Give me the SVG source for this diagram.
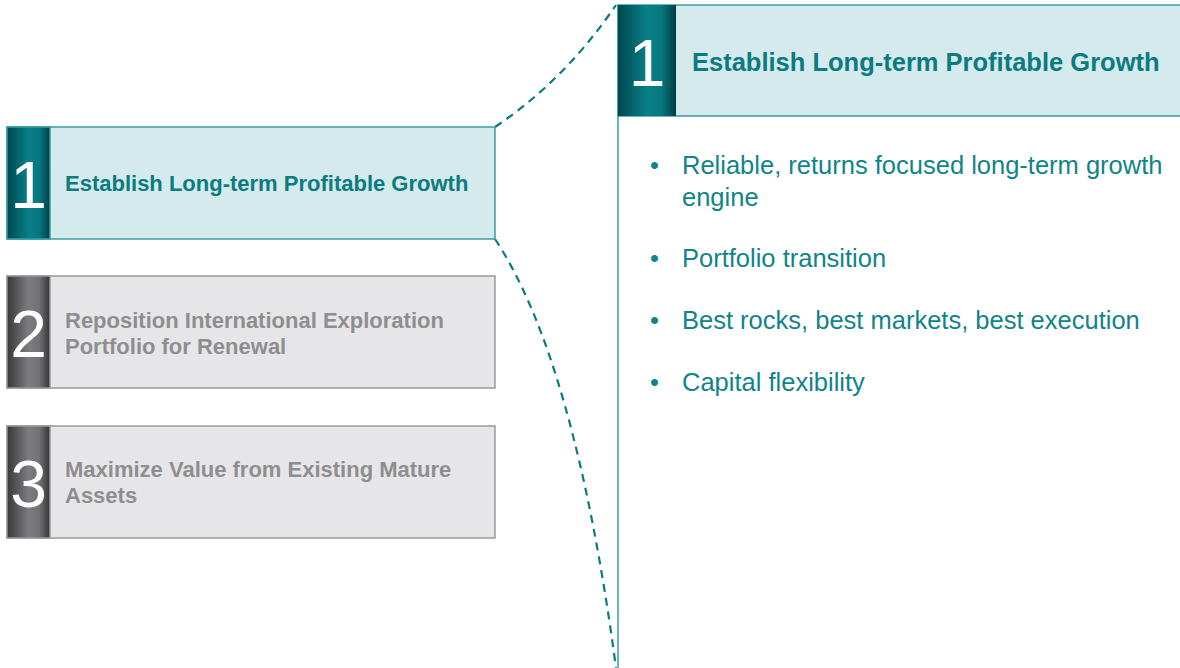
<svg xmlns="http://www.w3.org/2000/svg" width="1180" height="668" viewBox="0 0 1180 668">
<defs>
<linearGradient id="gTeal" x1="0" y1="0" x2="1" y2="0">
<stop offset="0" stop-color="#00474d"/>
<stop offset="0.5" stop-color="#07808a"/>
<stop offset="0.75" stop-color="#067780"/>
<stop offset="1" stop-color="#003e44"/>
</linearGradient>
<linearGradient id="gGray" x1="0" y1="0" x2="1" y2="0">
<stop offset="0" stop-color="#38383a"/>
<stop offset="0.5" stop-color="#7c7c80"/>
<stop offset="0.75" stop-color="#727276"/>
<stop offset="1" stop-color="#343436"/>
</linearGradient>
<style>
.tealbox{fill:#d4eaec;stroke:#3a9ea2;stroke-width:1.5}
.graybox{fill:#e6e6e8;stroke:#9a9a9c;stroke-width:1.5}
.num{font-family:"Liberation Sans",Arial,sans-serif;fill:#fff;font-size:66px;text-anchor:middle}
.lt{font-family:"Liberation Sans",Arial,sans-serif;font-weight:bold;font-size:22px}
.tt{fill:#0b7b80}
.gt{fill:#8e8e90}
.bul{font-family:"Liberation Sans",Arial,sans-serif;font-size:25.5px;fill:#108488}
.dash{fill:none;stroke:#0b7b80;stroke-width:2.2;stroke-dasharray:8,6}
</style>
</defs>
<g id="connectors">
<path class="dash" d="M495,127 Q565,80 616,5"/>
<path class="dash" d="M495,239 Q575,360 616,668"/>
</g>
<g id="node1">
<rect class="tealbox" x="7" y="127" width="488" height="112"/>
<rect x="7" y="127" width="43" height="112" fill="url(#gTeal)" stroke="#3a9ea2" stroke-width="1.5"/>
<text class="num" x="28.5" y="208">1</text>
<text class="lt tt" x="65" y="191">Establish Long-term Profitable Growth</text>
</g>
<g id="node2">
<rect class="graybox" x="7" y="276" width="488" height="112"/>
<rect x="7" y="276" width="43" height="112" fill="url(#gGray)" stroke="#9a9a9c" stroke-width="1.5"/>
<text class="num" x="28.5" y="357">2</text>
<text class="lt gt" x="65" y="328">Reposition International Exploration</text>
<text class="lt gt" x="65" y="354">Portfolio for Renewal</text>
</g>
<g id="node3">
<rect class="graybox" x="7" y="426" width="488" height="112"/>
<rect x="7" y="426" width="43" height="112" fill="url(#gGray)" stroke="#9a9a9c" stroke-width="1.5"/>
<text class="num" x="28.5" y="507">3</text>
<text class="lt gt" x="65" y="477">Maximize Value from Existing Mature</text>
<text class="lt gt" x="65" y="503">Assets</text>
</g>
<g id="detail">
<line x1="618" y1="5" x2="618" y2="668" stroke="#3a9ea2" stroke-width="1.5"/>
<rect x="618" y="5" width="570" height="111" fill="#d4eaec" stroke="#3a9ea2" stroke-width="1.5"/>
<rect x="618" y="5" width="58" height="111" fill="url(#gTeal)"/>
<text class="num" x="647" y="86">1</text>
<text class="tt" x="692" y="71" font-family="Liberation Sans, Arial, sans-serif" font-weight="bold" font-size="25.5">Establish Long-term Profitable Growth</text>
<text class="bul" x="650" y="174">•</text>
<text class="bul" x="682" y="174">Reliable, returns focused long-term growth</text>
<text class="bul" x="682" y="206">engine</text>
<text class="bul" x="650" y="267">•</text>
<text class="bul" x="682" y="267">Portfolio transition</text>
<text class="bul" x="650" y="329">•</text>
<text class="bul" x="682" y="329">Best rocks, best markets, best execution</text>
<text class="bul" x="650" y="391">•</text>
<text class="bul" x="682" y="391">Capital flexibility</text>
</g>
</svg>
